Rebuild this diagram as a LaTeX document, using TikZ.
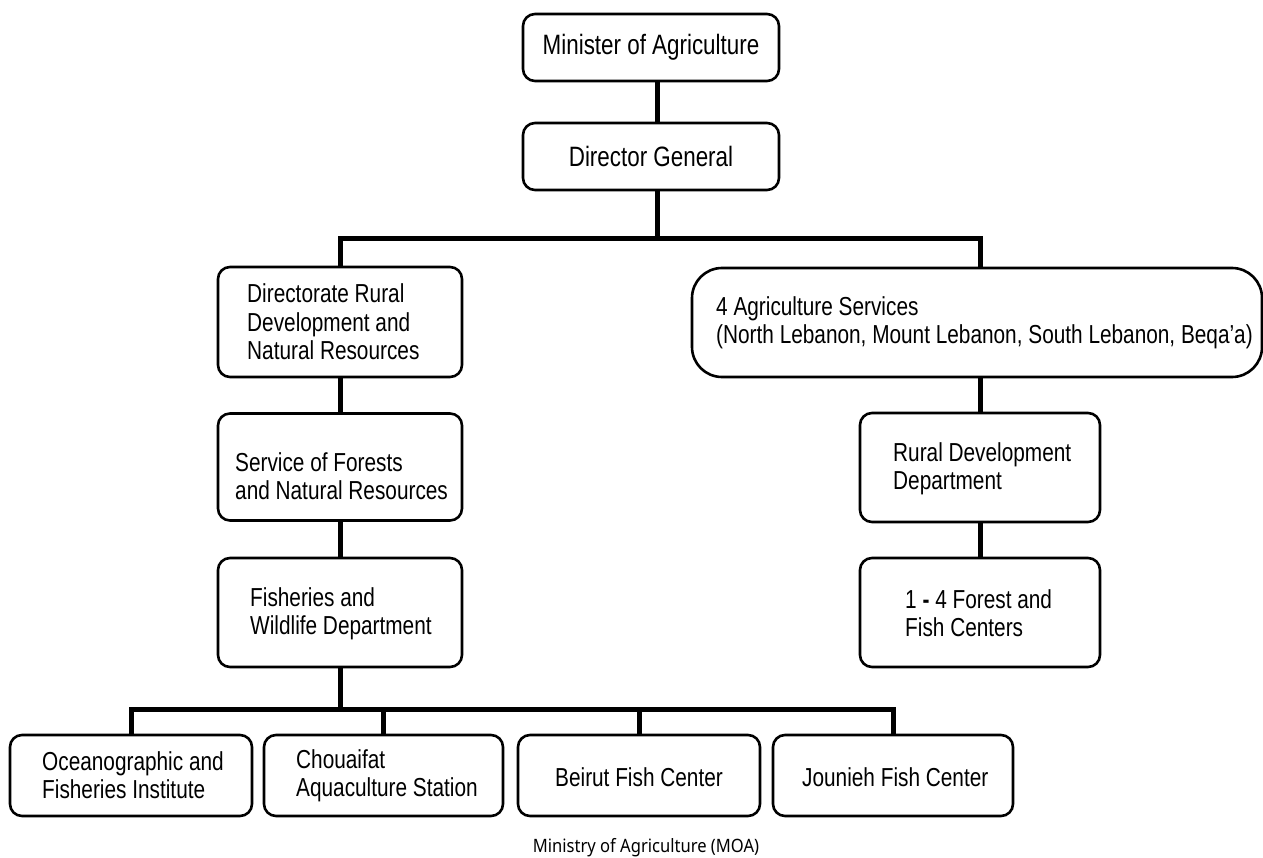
\documentclass[tikz,border=0pt]{standalone}
\usepackage{fontspec}
\setmainfont[FakeStretch=0.8]{Liberation Sans}
\newfontfamily\capfont[FakeStretch=0.9]{Noto Sans}
\begin{document}
\begin{tikzpicture}[x=1pt,y=-1pt,
  box/.style={draw=black, line width=2.6pt, rounded corners=12pt, rectangle, inner sep=0pt, fill=white},
  txt/.style={font=\fontsize{26}{28.5}\selectfont, align=left, inner sep=0pt},
  toptxt/.style={font=\fontsize{28}{30}\selectfont, align=center, inner sep=0pt},
  conn/.style={line width=5pt, line cap=butt}]
\useasboundingbox (0,0) rectangle (1263,858);
% boxes
\node[box, minimum width=256pt, minimum height=67pt, toptxt] (min) at (651,47.5) {Minister of Agriculture};
\node[box, minimum width=256pt, minimum height=67pt, toptxt] (dg) at (651,156.5) {Director General};
\node[box, minimum width=244pt, minimum height=110pt] (dir) at (340,322) {};
\node[box, minimum width=244pt, minimum height=107pt] (serv) at (340,467) {};
\node[box, minimum width=244pt, minimum height=109pt] (fish) at (340,612.5) {};
\node[box, minimum width=570pt, minimum height=109pt, rounded corners=30pt] (agri) at (977,322.5) {};
\node[box, minimum width=240pt, minimum height=109pt] (rural) at (980,467.5) {};
\node[box, minimum width=240pt, minimum height=109pt] (forest) at (980,612.5) {};
\node[box, minimum width=242pt, minimum height=81pt] (ocean) at (131,775.5) {};
\node[box, minimum width=239pt, minimum height=81pt] (chou) at (383.5,775.5) {};
\node[box, minimum width=242pt, minimum height=81pt] (beirut) at (639,775.5) {};
\node[box, minimum width=240pt, minimum height=81pt] (joun) at (893,775.5) {};
% texts
\node[txt, anchor=west] (dirT) at (247,322) {Directorate Rural\\Development and\\Natural Resources};
\node[txt, anchor=west] (servT) at (235,476) {Service of Forests\\and Natural Resources};
\node[txt, anchor=west] (fishT) at (250,614) {Fisheries and\\Wildlife Department};
\node[txt, anchor=west] (agriT) at (716,323) {4 Agriculture Services\\(North Lebanon, Mount Lebanon, South Lebanon, Beqa’a)};
\node[txt, anchor=west] (ruralT) at (893,469) {Rural Development\\Department};
\node[txt, anchor=west] (forestT) at (905,613) {1 \textbf{-} 4 Forest and\\Fish Centers};
\node[txt, anchor=west] (oceanT) at (42,775) {Oceanographic and\\Fisheries Institute};
\node[txt, anchor=west] (chouT) at (296,776) {Chouaifat\\Aquaculture Station};
\node[txt] (beirutT) at (639,777) {Beirut Fish Center};
\node[txt, anchor=west] (jounT) at (802,777) {Jounieh Fish Center};
\node[font=\capfont\fontsize{18.4}{20}\selectfont, inner sep=0pt] (cap) at (646,848) {Ministry of Agriculture (MOA)};
% connectors
\coordinate (top1) at (657,81);
\coordinate (top2) at (657,123);
\coordinate (dgb) at (657,190);
\coordinate (bar1) at (657,239);
\coordinate (bar2) at (340,709);
\draw[conn] (top1) -- (top2);
\draw[conn] (dgb) -- (bar1);
\draw[conn] (dir.north) |- (bar1) -| (rural.north |- agri.north);
\draw[conn] (dir.south) -- (serv.north);
\draw[conn] (serv.south) -- (fish.north);
\draw[conn] (agri.south -| rural.north) -- (rural.north);
\draw[conn] (rural.south) -- (forest.north);
\draw[conn] (fish.south) -- (bar2);
\draw[conn] (ocean.north) |- (bar2) -| (joun.north);
\draw[conn] (chou.north) -- (chou.north |- bar2);
\draw[conn] (beirut.north) -- (beirut.north |- bar2);
\end{tikzpicture}
\end{document}
